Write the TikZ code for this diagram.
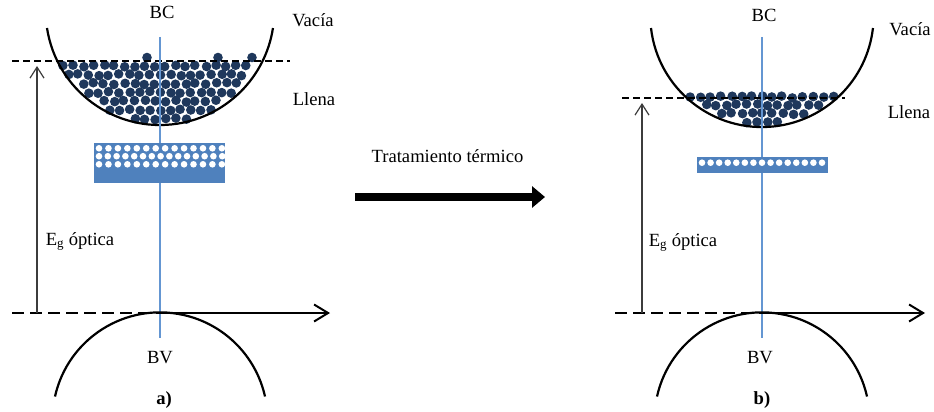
\documentclass[tikz,border=0pt]{standalone}
\usepackage{fontspec}
\setmainfont{Liberation Serif}
\usetikzlibrary{arrows.meta}
\definecolor{electronc}{RGB}{31,56,92}
\definecolor{rectc}{RGB}{79,129,189}
\definecolor{axisc}{RGB}{100,150,210}
\definecolor{egc}{RGB}{60,60,60}
\newcommand\bandfill[4]{%
  \foreach \ry [count=\ri] in {#4} {
    \foreach \cc in {-11,...,11} {
      \pgfmathsetmacro\ex{#1+10.2*\cc+5.1*mod(\ri,2)+1.0*rand}
      \pgfmathsetmacro\ey{\ry+1.0*rand}
      \pgfmathtruncatemacro\ok{(((\ex-#1)/10)^2+((\ey-#2)/10)^2<(#3/10)^2)?1:0}
      \ifnum\ok=1 \fill[electron] (\ex,\ey) circle[radius=4.8pt];\fi
    }
  }%
}
\begin{document}
\begin{tikzpicture}[x=1pt,y=-1pt,
  lbl/.style={inner sep=0pt,anchor=base,font=\fontsize{18.6}{21}\selectfont},
  band/.style={line width=2.2pt,black},
  electron/.style={fill=electronc},
  axisline/.style={axisc,line width=1.4pt},
  fermi/.style={black,line width=1.3pt,dash pattern=on 7pt off 4pt},
  vbline/.style={black,line width=2pt,dash pattern=on 12pt off 6pt},
  haxis/.style={black,line width=2pt,-{Straight Barb[length=14pt,width=17pt,line width=2pt]}},
  egarrow/.style={egc,line width=1.2pt,-{Straight Barb[length=11pt,width=14pt,line width=1.2pt]}},
  trap/.style={fill=rectc},
  hole/.style={fill=white},
  bigarrow/.style={black,line width=8pt,-{Triangle[length=13pt,width=21pt]}}]
\useasboundingbox (0,0) rectangle (934,412);
\pgfmathsetseed{11}

% ================= left diagram =================
\bandfill{160}{10.7}{111.8}{118.8,110,101.2,92.4,83.6,74.8,66}
\fill[electron] (147,57.5) circle[radius=4.8pt];
\fill[electron] (218,57.5) circle[radius=4.8pt];
\fill[electron] (252,57.5) circle[radius=4.8pt];
\coordinate (Lcb) at (47,28);
\draw[band] (Lcb) arc[start angle=171.3,end angle=8.7,radius=114.3];
\coordinate (Ldl) at (12,61);
\coordinate (Ldr) at (290,61);
\draw[fermi] (Ldl) -- (Ldr);
\coordinate (Ltop) at (160,37);
\coordinate (Lbot) at (160,338);
\draw[axisline] (Ltop) -- (Lbot);
\fill[trap] (94,143) rectangle (225,183);
\foreach \k in {0,...,13} \fill[hole] (99+9.45*\k,148.3) circle[radius=3.3pt];
\foreach \k in {0,...,14} \fill[hole] (99+8.8*\k,156.2) circle[radius=3.3pt];
\foreach \k in {0,...,13} \fill[hole] (99+9.45*\k,164.3) circle[radius=3.3pt];
\coordinate (Lvb) at (55,396.5);
\draw[band] (Lvb) arc[start angle=192.6,end angle=347.4,radius=107.6];
\coordinate (Lh0) at (12,313);
\coordinate (Lhc) at (160,313);
\coordinate (Lh1) at (330,313);
\draw[vbline] (Lh0) -- (Lhc);
\draw[haxis] (Lhc) -- (Lh1);
\coordinate (Lab) at (37,313);
\coordinate (Lat) at (37,66);
\draw[egarrow] (Lab) -- (Lat);
\node[lbl] (LBC) at (162,19) {BC};
\node[lbl] (LVac) at (313,27) {Vacía};
\node[lbl] (LLle) at (314,105) {Llena};
\node[lbl] (LEg) at (80,245) {E\textsubscript{g} óptica};
\node[lbl] (LBV) at (160,363) {BV};
\node[lbl,font=\fontsize{18.6}{21}\selectfont\bfseries] (La) at (164,404) {a)};

% ================= middle =================
\node[lbl] (Ttxt) at (447.5,162) {Tratamiento térmico};
\coordinate (Ma) at (355,197);
\coordinate (Mb) at (545,197);
\draw[bigarrow] (Ma) -- (Mb);

% ================= right diagram =================
\bandfill{762}{15.3}{109.2}{122.3,113.6,104.9,97}
\coordinate (Rcb) at (651,28);
\draw[band] (Rcb) arc[start angle=173.5,end angle=6.5,radius=111.7];
\coordinate (Rdl) at (622,98);
\coordinate (Rdr) at (845,98);
\draw[fermi] (Rdl) -- (Rdr);
\coordinate (Rtop) at (762,37);
\coordinate (Rbot) at (762,338);
\draw[axisline] (Rtop) -- (Rbot);
\fill[trap] (697,157) rectangle (828,173);
\foreach \k in {0,...,14} \fill[hole] (702+8.57*\k,162.7) circle[radius=3.3pt];
\coordinate (Rvb) at (657,396.5);
\draw[band] (Rvb) arc[start angle=192.6,end angle=347.4,radius=107.6];
\coordinate (Rh0) at (615,313);
\coordinate (Rhc) at (762,313);
\coordinate (Rh1) at (925,313);
\draw[vbline] (Rh0) -- (Rhc);
\draw[haxis] (Rhc) -- (Rh1);
\coordinate (Rab) at (642,313);
\coordinate (Rat) at (642,103);
\draw[egarrow] (Rab) -- (Rat);
\node[lbl] (RBC) at (764,22) {BC};
\node[lbl] (RVac) at (910,36) {Vacía};
\node[lbl] (RLle) at (909,118) {Llena};
\node[lbl] (REg) at (683,246) {E\textsubscript{g} óptica};
\node[lbl] (RBV) at (760,363) {BV};
\node[lbl,font=\fontsize{18.6}{21}\selectfont\bfseries] (Rb) at (762,404) {b)};
\end{tikzpicture}
\end{document}
